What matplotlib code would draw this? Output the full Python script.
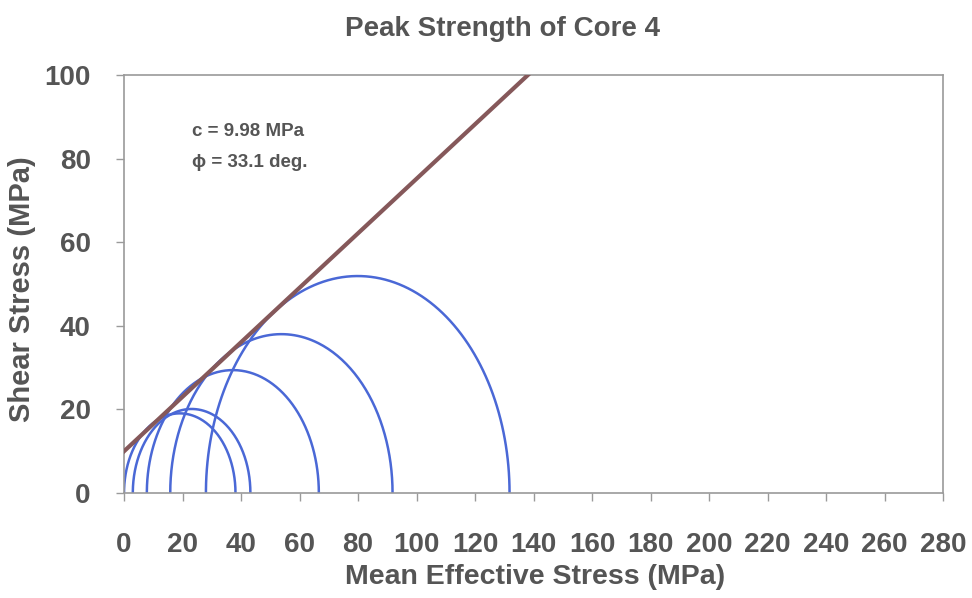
import numpy as np
import matplotlib.pyplot as plt

plt.rcParams['font.family'] = ['Liberation Sans', 'DejaVu Sans']
plt.rcParams['font.weight'] = 'bold'

# triaxial tests: minor and major principal effective stress at peak (MPa)
sigma3 = [0.0, 3.0, 7.8, 15.8, 28.0]
sigma1 = [38.1, 43.2, 66.6, 91.8, 131.8]

# Mohr-Coulomb envelope
cohesion = 9.98
phi_deg = 33.1

xticks = list(range(0, 281, 20))
yticks = list(range(0, 101, 20))

text_c = '#555555'
circle_c = '#4a68d6'
env_c = '#85585a'
frame_c = '#9a9a9a'

fig = plt.figure(figsize=(9.72, 5.98), dpi=100)
ax = fig.add_axes([0.1276, 0.1756, 0.8426, 0.699])

theta = np.linspace(0, np.pi, 200)
for s3, s1 in zip(sigma3, sigma1):
    centre = (s1 + s3) / 2
    radius = (s1 - s3) / 2
    ax.plot(centre + radius * np.cos(theta), radius * np.sin(theta),
            color=circle_c, lw=1.8, zorder=2)

sig = np.linspace(0, 280, 400)
tau = cohesion + sig * np.tan(np.radians(phi_deg))
ax.plot(sig, tau, color=env_c, lw=3.0, zorder=3)

ax.set_xlim(0, 280)
ax.set_ylim(0, 100)
ax.set_xticks(xticks)
ax.set_yticks(yticks)
ax.tick_params(axis='both', direction='out', length=6, width=1, color=frame_c,
               labelsize=20, labelcolor=text_c)
ax.tick_params(axis='x', pad=22)
ax.tick_params(axis='y', pad=18)
for lab in ax.get_xticklabels() + ax.get_yticklabels():
    lab.set_fontweight('bold')
for sp in ax.spines.values():
    sp.set_color(frame_c)
    sp.set_linewidth(1.2)

fig.text(535 / 972, 1 - 577 / 598, 'Mean Effective Stress (MPa)', fontsize=20.5,
         fontweight='bold', color=text_c, ha='center', va='center')
fig.text(22 / 972, 1 - 289 / 598, 'Shear Stress (MPa)', fontsize=21,
         fontweight='bold', color=text_c, ha='center', va='center', rotation=90)
fig.text(502 / 972, 1 - 29 / 598, 'Peak Strength of Core 4', fontsize=20,
         fontweight='bold', color=text_c, ha='center', va='center')

ax.text(23.3, (493 - 132) / 4.18, 'c = 9.98 MPa', fontsize=13.5,
        fontweight='bold', color=text_c, va='center', ha='left')
ax.text(23.3, (493 - 163) / 4.18, '\u03d5 = 33.1 deg.', fontsize=13.5,
        fontweight='bold', color=text_c, va='center', ha='left')

fig.savefig('out.png', dpi=100)
